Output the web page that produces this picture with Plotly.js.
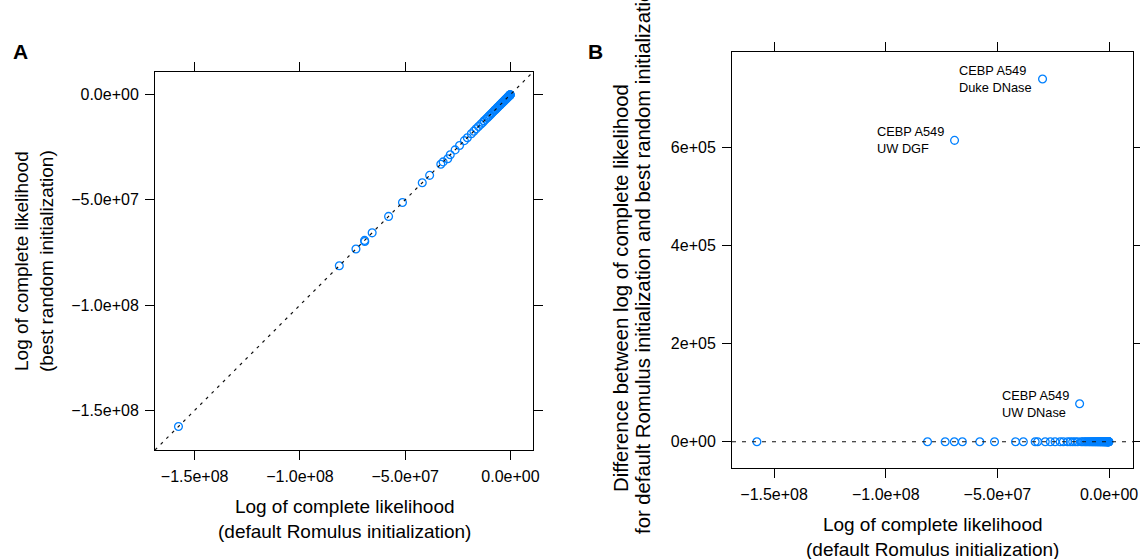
<!DOCTYPE html>
<html>
<head>
<meta charset="utf-8">
<script src="https://cdn.plot.ly/plotly-3.0.1.min.js"></script>
<style>
  html, body { margin: 0; padding: 0; background: #fff; }
  #chart { width: 1140px; height: 559px; }
</style>
</head>
<body>
<div id="chart"></div>
<script>
// Log of complete likelihood, default Romulus initialization (x in both panels)
const defaultLL = [
  -1.577e8, -8.13e7, -7.34e7, -6.93e7, -6.92e7, -6.57e7, -5.79e7, -5.13e7,
  -4.19e7, -3.84e7, -3.31e7, -3.20e7, -2.98e7, -2.86e7, -2.63e7, -2.42e7,
  -2.19e7, -2.05e7, -1.86e7, -1.74e7, -1.63e7, -1.52e7, -1.41e7, -1.32e7,
  -1.25e7, -1.18e7, -1.10e7, -1.04e7, -9.8e6, -9.1e6, -8.6e6, -8.0e6,
  -7.5e6, -7.1e6, -6.6e6, -6.2e6, -5.8e6, -5.4e6, -5.0e6, -4.7e6,
  -4.3e6, -4.0e6, -3.7e6, -3.4e6, -3.1e6, -2.8e6, -2.6e6, -2.3e6,
  -2.1e6, -1.9e6, -1.7e6, -1.5e6, -1.3e6, -1.15e6, -1.0e6, -8.8e5,
  -7.6e5, -6.5e5, -5.5e5, -4.6e5, -3.8e5, -3.1e5, -2.5e5, -1.9e5,
  -1.4e5, -1.0e5
];
// Difference: default minus best random initialization (y in panel B)
const llDiff = [
  0, 0, 0, 0, 6.14e5, 0, 0, 0,
  0, 0, 0, 0, 7.39e5, 0, 0, 0,
  0, 0, 0, 0, 0, 0, 0, 7.73e4,
  0, 0, 0, 0, 0, 0, 0, 0,
  0, 0, 0, 0, 0, 0, 0, 0,
  0, 0, 0, 0, 0, 0, 0, 0,
  0, 0, 0, 0, 0, 0, 0, 0,
  0, 0, 0, 0, 0, 0, 0, 0,
  0, 0
];
// Best random initialization log likelihood (y in panel A)
const randomLL = defaultLL.map((v, i) => v - llDiff[i]);

// Labelled points in panel B
const labelIndex = [12, 4, 23];
const labelText = ["CEBP A549<br>Duke DNase", "CEBP A549<br>UW DGF", "CEBP A549<br>UW DNase"];

// Axis ticks
const llTickVals = [-1.5e8, -1.0e8, -5.0e7, 0];
const llTickText = ["\u22121.5e+08", "\u22121.0e+08", "\u22125.0e+07", "0.0e+00"];
const diffTickVals = [0, 2e5, 4e5, 6e5];
const diffTickText = ["0e+00", "2e+05", "4e+05", "6e+05"];

// Axis titles
const xTitle = "Log of complete likelihood<br>(default Romulus initialization)";
const yTitleA = "Log of complete likelihood<br>(best random initialization)";
const yTitleB = ["Difference between log of complete likelihood",
                 "for default Romulus initialization and best random initialization"];

// Axis ranges (lattice-style padding)
const llRange = [-1.6885e8, 1.07e7];
const diffRange = [-5.35e4, 7.94e5];

const W = 1140, H = 559;
const px = v => v / W;
const py = v => 1 - v / H;

const FONT = "Liberation Sans, Arial, Helvetica, sans-serif";
const BLUE = "#0080ff";

const marker = { symbol: "circle-open", size: 7.8, color: BLUE, line: { width: 1.3, color: BLUE } };

const traces = [
  { type: "scatter", mode: "markers", x: defaultLL, y: randomLL, xaxis: "x", yaxis: "y",
    marker: marker, hoverinfo: "skip", showlegend: false, cliponaxis: true },
  { type: "scatter", mode: "markers", x: defaultLL, y: llDiff, xaxis: "x2", yaxis: "y2",
    marker: marker, hoverinfo: "skip", showlegend: false, cliponaxis: true }
];

function axis(extra) {
  return Object.assign({
    ticks: "outside", ticklen: 9, tickwidth: 1, tickcolor: "#000",
    showline: true, linecolor: "#000", linewidth: 1, mirror: "ticks",
    showgrid: false, zeroline: false, fixedrange: true,
    tickfont: { family: FONT, size: 16, color: "#000" },
    ticklabelstandoff: 3
  }, extra);
}

const annotations = [];
// panel letters
annotations.push({ xref: "paper", yref: "paper", x: px(21), y: py(51.5), text: "<b>A</b>",
  showarrow: false, xanchor: "center", yanchor: "middle", font: { family: FONT, size: 21, color: "#000" } });
annotations.push({ xref: "paper", yref: "paper", x: px(595), y: py(52), text: "<b>B</b>",
  showarrow: false, xanchor: "center", yanchor: "middle", font: { family: FONT, size: 21, color: "#000" } });
// axis titles
const titleFont = { family: FONT, size: 19, color: "#000" };
annotations.push({ xref: "paper", yref: "paper", x: px(344), y: py(518.5), text: xTitle,
  showarrow: false, xanchor: "center", yanchor: "middle", font: titleFont });
annotations.push({ xref: "paper", yref: "paper", x: px(932.5), y: py(536.7), text: xTitle,
  showarrow: false, xanchor: "center", yanchor: "middle", font: titleFont });
annotations.push({ xref: "paper", yref: "paper", x: px(34), y: py(261), textangle: -90, text: yTitleA,
  showarrow: false, xanchor: "center", yanchor: "middle", font: titleFont });
const yTitleBFont = { family: FONT, size: 20.3, color: "#000" };
annotations.push({ xref: "paper", yref: "paper", x: px(621), y: py(288), textangle: -90, text: yTitleB[0],
  showarrow: false, xanchor: "center", yanchor: "middle", font: yTitleBFont });
annotations.push({ xref: "paper", yref: "paper", x: px(643), y: py(257), textangle: -90, text: yTitleB[1],
  showarrow: false, xanchor: "center", yanchor: "middle", font: yTitleBFont });
// point labels
labelIndex.forEach((idx, k) => {
  annotations.push({ xref: "x2", yref: "y2", x: defaultLL[idx], y: llDiff[idx], text: labelText[k],
    showarrow: false, xanchor: "right", yanchor: "middle", align: "left", xshift: -9,
    font: { family: FONT, size: 12.8, color: "#000" } });
});

const layout = {
  width: W, height: H,
  margin: { l: 0, r: 0, t: 0, b: 0 },
  paper_bgcolor: "#fff", plot_bgcolor: "rgba(0,0,0,0)",
  font: { family: FONT, color: "#000" },
  showlegend: false,
  xaxis: axis({ domain: [px(155), px(533)], range: llRange, tickvals: llTickVals, ticktext: llTickText, anchor: "y" }),
  yaxis: axis({ domain: [py(450), py(72)], range: llRange, tickvals: llTickVals, ticktext: llTickText, anchor: "x" }),
  xaxis2: axis({ domain: [px(732), px(1133)], range: llRange, tickvals: llTickVals, ticktext: llTickText, anchor: "y2" }),
  yaxis2: axis({ domain: [py(468), py(52)], range: diffRange, tickvals: diffTickVals, ticktext: diffTickText, anchor: "x2" }),
  shapes: [
    { type: "line", xref: "x domain", yref: "y domain", x0: 0, y0: 0, x1: 1, y1: 1,
      line: { color: "#111", width: 1.2, dash: "3px,5px" }, layer: "above" },
    { type: "line", xref: "x2 domain", yref: "y2", x0: 0, x1: 1, y0: 0, y1: 0,
      line: { color: "#111", width: 1.2, dash: "4px,6px" }, layer: "above" }
  ],
  annotations: annotations
};

Plotly.newPlot("chart", traces, layout, { displayModeBar: false, staticPlot: true });
</script>
</body>
</html>
